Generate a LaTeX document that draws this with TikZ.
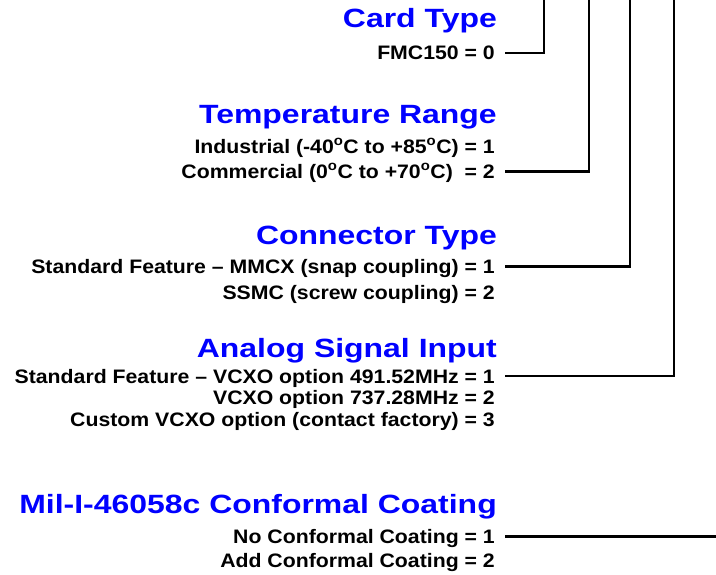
\documentclass[tikz,border=0pt]{standalone}
\usepackage{fontspec}
\usepackage{tikz}
\usetikzlibrary{positioning,calc}
\newfontfamily\titlefont{Liberation Sans}[FakeStretch=1.21,Ligatures=TeX]
\newfontfamily\optfont{Liberation Sans}[FakeStretch=1.09,Ligatures=TeX]
\newcommand{\dg}{\textsuperscript{o}}

\begin{document}
\begin{tikzpicture}[
        x=1pt, y=-1pt,
        title/.style={anchor=base east, inner sep=0pt, text=blue, font=\titlefont\bfseries\fontsize{26.4}{28}\selectfont},
        option/.style={anchor=base east, inner sep=0pt, text height=14pt, text depth=0pt, font=\optfont\bfseries\fontsize{19.5}{21}\selectfont},
        wire/.style={line width=2.6pt, shorten <=10pt}
    ]
    \useasboundingbox (0,0) rectangle (716,575);

    \node (cardttl) [title] at (497,28) {Card Type};
    \node (cardopt) [option] at (495,60) {FMC150 = 0};

    \node (tempttl) [title] at (497,123.3) {Temperature Range};
    \node (tempind) [option] at (495,153.3) {Industrial (-40\dg C to +85\dg C) = 1};
    \node (tempcom) [option] at (495,178.5) {Commercial (0\dg C to +70\dg C) \ = 2};

    \node (connttl) [title] at (497,245) {Connector Type};
    \node (connmmcx) [option] at (495,273.5) {Standard Feature \textendash{} MMCX (snap coupling) = 1};
    \node (connssmc) [option] at (495,300) {SSMC (screw coupling) = 2};

    \node (analogttl) [title] at (497,358) {Analog Signal Input};
    \node (analoga) [option] at (495,383) {Standard Feature \textendash{} VCXO option 491.52MHz = 1};
    \node (analogb) [option] at (495,404.5) {VCXO option 737.28MHz = 2};
    \node (analogc) [option] at (495,426) {Custom VCXO option (contact factory) = 3};

    \node (coatttl) [title] at (497,513.3) {Mil-I-46058c Conformal Coating};
    \node (coatno) [option] at (495,543.5) {No Conformal Coating = 1};
    \node (coatadd) [option] at (495,567.5) {Add Conformal Coating = 2};

    \coordinate (cardtop) at (544,0);
    \coordinate (temptop) at (589,0);
    \coordinate (conntop) at (630,0);
    \coordinate (analogtop) at (674,0);
    \coordinate (coatend) at (716,0);

    \draw[wire] (cardopt.east) -| (cardtop);
    \draw[wire] (tempcom.east) -| (temptop);
    \draw[wire] (connmmcx.east) -| (conntop);
    \draw[wire] (analoga.east) -| (analogtop);
    \draw[wire] (coatno.east) -- (coatno.east -| coatend);
\end{tikzpicture}
\end{document}
